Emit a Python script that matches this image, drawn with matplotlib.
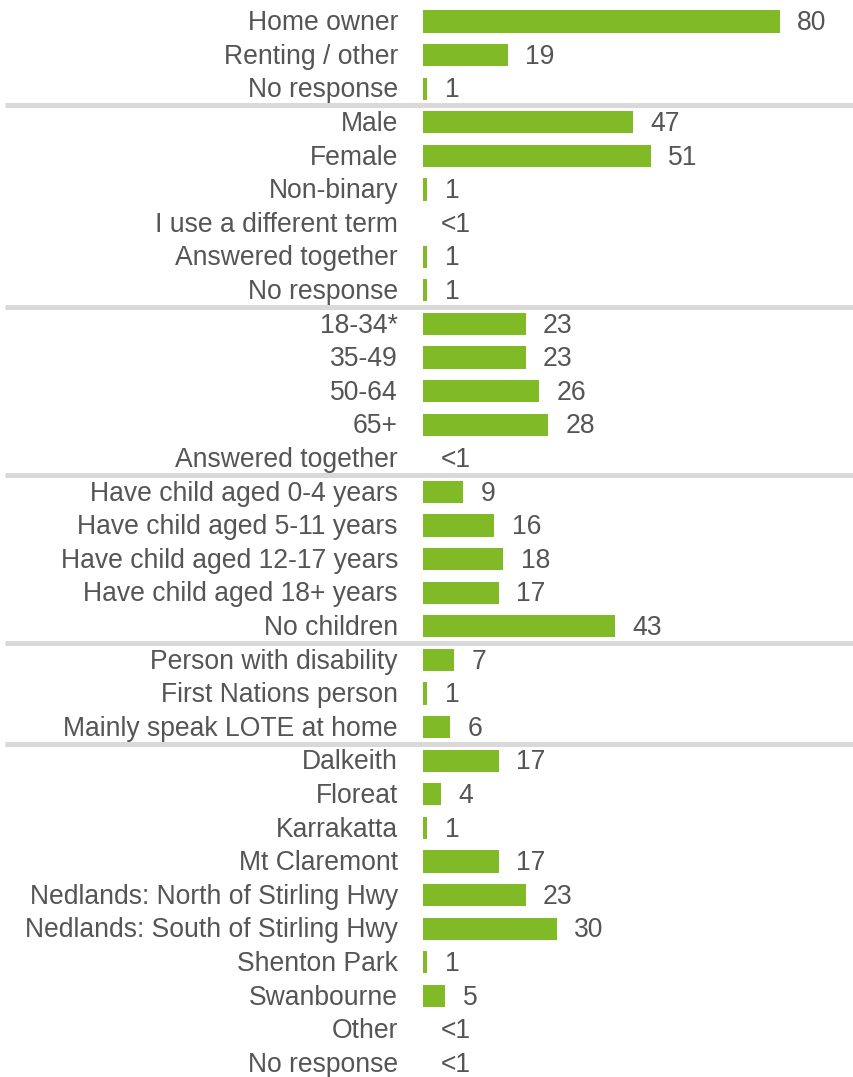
import matplotlib
matplotlib.use("Agg")
import matplotlib.pyplot as plt
from matplotlib.transforms import blended_transform_factory

categories = [
    "Home owner", "Renting / other", "No response",
    "Male", "Female", "Non-binary", "I use a different term", "Answered together", "No response",
    "18-34*", "35-49", "50-64", "65+", "Answered together",
    "Have child aged 0-4 years", "Have child aged 5-11 years", "Have child aged 12-17 years",
    "Have child aged 18+ years", "No children",
    "Person with disability", "First Nations person", "Mainly speak LOTE at home",
    "Dalkeith", "Floreat", "Karrakatta", "Mt Claremont", "Nedlands: North of Stirling Hwy",
    "Nedlands: South of Stirling Hwy", "Shenton Park", "Swanbourne", "Other", "No response",
]
values = [
    80, 19, 1,
    47, 51, 1, 0, 1, 1,
    23, 23, 26, 28, 0,
    9, 16, 18, 17, 43,
    7, 1, 6,
    17, 4, 1, 17, 23, 30, 1, 5, 0, 0,
]
value_labels = [
    "80", "19", "1",
    "47", "51", "1", "<1", "1", "1",
    "23", "23", "26", "28", "<1",
    "9", "16", "18", "17", "43",
    "7", "1", "6",
    "17", "4", "1", "17", "23", "30", "1", "5", "<1", "<1",
]
group_breaks = [2.5, 8.5, 13.5, 18.5, 21.5]

W, H = 854, 1077
fig = plt.figure(figsize=(W / 100, H / 100), dpi=100)
x0 = 423
ax = fig.add_axes([x0 / W, 0, 1 - x0 / W, 1])
px_per_unit = (780 - 423) / 80.0
ax.set_xlim(0, (W - x0) / px_per_unit)
row_px = 33.6
top_px = 21.5
ax.set_ylim((H - top_px) / row_px, -top_px / row_px)

bar_color = "#80ba27"
text_color = "#555555"
fs = 19.1
plt.rcParams["font.family"] = ["Liberation Sans", "DejaVu Sans"]

ys = list(range(len(categories)))
ax.barh(ys, values, height=0.66, color=bar_color, edgecolor="none")

for y, v, lab, cat in zip(ys, values, value_labels, categories):
    ax.annotate(lab, xy=(v, y), xytext=(12.5, -1.2), textcoords="offset points",
                ha="left", va="center", fontsize=fs, color=text_color,
                family=["Liberation Sans"])
    ax.annotate(cat, xy=(0, y), xytext=(-18, -1.2), textcoords="offset points",
                ha="right", va="center", fontsize=fs, color=text_color,
                family=["Liberation Sans"], annotation_clip=False)

tr = blended_transform_factory(fig.transFigure, ax.transData)
for b in group_breaks:
    ax.plot([5 / W, 1.0], [b, b], transform=tr, color="#d9d9d9", lw=3.6,
            clip_on=False, solid_capstyle="butt")

ax.axis("off")
fig.savefig("out.png", dpi=100)
